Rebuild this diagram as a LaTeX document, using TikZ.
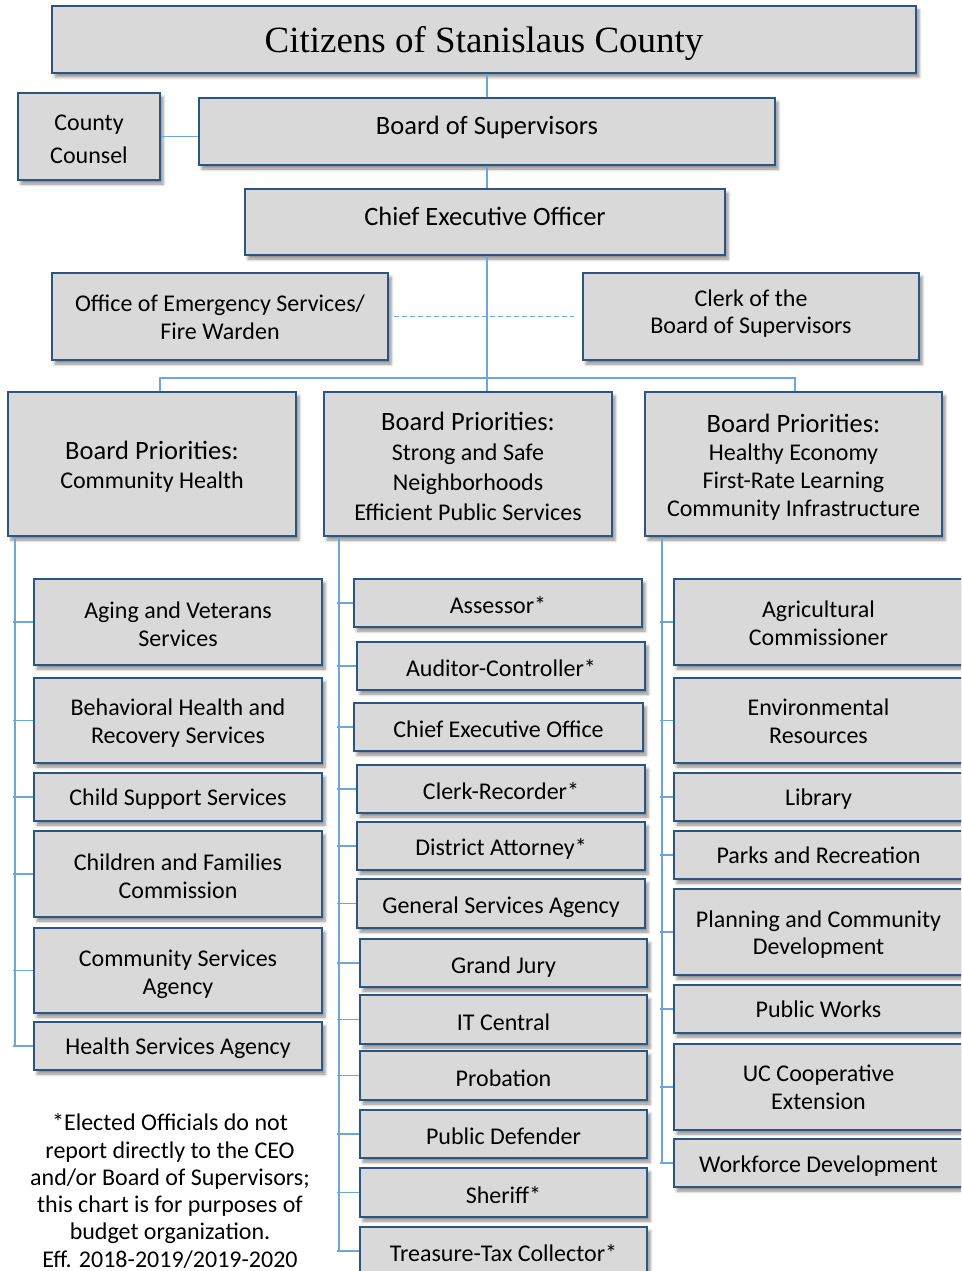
\documentclass[tikz,border=0pt]{standalone}
\usepackage{fontspec}
\setmainfont{Carlito}
\newfontfamily\titlefont{Liberation Serif}
\usetikzlibrary{shadows.blur}
\definecolor{boxfill}{RGB}{217,217,217}
\definecolor{boxline}{RGB}{45,85,130}
\definecolor{conn}{RGB}{110,165,220}
\tikzset{
  box/.style={draw=boxline, line width=1.8pt, fill=boxfill, inner sep=0pt,
    blur shadow={shadow xshift=3pt, shadow yshift=-4pt, shadow blur radius=3pt, shadow opacity=45}},
  txt/.style={align=center, inner sep=0pt, yshift=-2.5pt, font=\fontsize{24}{27.7}\selectfont},
  link/.style={draw=conn, line width=1.3pt},
  big/.style={font=\fontsize{26.5}{30}\selectfont},
}
% \bx[text options]{x1}{y1}{x2}{y2}{name}{text}
\newcommand\bx[7][]{%
  \node[box, minimum width={(#4-#2)*1pt}, minimum height={(#5-#3)*1pt}] (#6) at ({(#2+#4)/2},{(#3+#5)/2}) {};
  \node[txt,#1] (#6-t) at (#6.center) {#7};}
\newcommand\bph{\fontsize{26.5}{30}\selectfont Board Priorities:}
\begin{document}
\begin{tikzpicture}[x=1pt,y=-1pt]
\useasboundingbox (0,0) rectangle (961,1271);
\clip (0,0) rectangle (961,1271);
\coordinate (cL) at (15,0);
\coordinate (cM) at (339,0);
\coordinate (cR) at (662,0);
\coordinate (busL) at (160,378);
\coordinate (busR) at (795,378);
\coordinate (spine) at (487,0);
% top boxes
\bx[yshift=-1.5pt, font=\titlefont\fontsize{37}{40}\selectfont]{52}{6}{916}{73}{cit}{Citizens of Stanislaus County}
\bx[font=\fontsize{24}{33}\selectfont]{18}{93}{160}{180}{cc}{County\\Counsel}
\bx[big, yshift=6.5pt]{199}{98}{775}{165}{bos}{Board of Supervisors}
\bx[big, yshift=8.5pt]{245}{189}{725}{255}{ceo}{Chief Executive Officer}
\bx[yshift=1.5pt]{52}{273}{388}{360}{oes}{Office of Emergency Services/\\Fire Warden}
\bx[yshift=5.5pt]{583}{273}{919}{360}{cbs}{Clerk of the\\Board of Supervisors}
\bx[font=\fontsize{24}{29}\selectfont]{8}{392}{296}{536}{bpa}{{\bph}\\Community Health}
\bx[font=\fontsize{24}{30}\selectfont]{324}{392}{612}{536}{bpb}{{\bph}\\Strong and Safe\\Neighborhoods\\Efficient Public Services}
\bx[yshift=-1pt, font=\fontsize{24}{28}\selectfont]{645}{392}{942}{536}{bpc}{{\bph}\\Healthy Economy\\First-Rate Learning\\Community Infrastructure}
% left column
\bx{34}{579}{322}{665}{l1}{Aging and Veterans\\Services}
\bx{34}{678}{322}{763}{l2}{Behavioral Health and\\Recovery Services}
\bx{34}{773}{322}{821}{l3}{Child Support Services}
\bx{34}{831}{322}{917}{l4}{Children and Families\\Commission}
\bx[yshift=-1.5pt]{34}{928}{322}{1013}{l5}{Community Services\\Agency}
\bx{34}{1022}{322}{1070}{l6}{Health Services Agency}
% middle column
\bx{354}{579}{642}{627}{m1}{Assessor*}
\bx{357}{642}{645}{690}{m2}{Auditor-Controller*}
\bx{354}{703}{643}{751}{m3}{Chief Executive Office}
\bx{357}{765}{645}{813}{m4}{Clerk-Recorder*}
\bx[yshift=-0.5pt]{357}{822}{645}{870}{m5}{District Attorney*}
\bx[yshift=-1.5pt]{357}{879}{645}{928}{m6}{General Services Agency}
\bx[yshift=-1.5pt]{360}{939}{647}{987}{m7}{Grand Jury}
\bx{360}{995}{647}{1044}{m8}{IT Central}
\bx{360}{1051}{647}{1100}{m9}{Probation}
\bx{360}{1110}{647}{1158}{m10}{Public Defender}
\bx{360}{1168}{647}{1217}{m11}{Sheriff*}
\bx{360}{1227}{647}{1275}{m12}{Treasure-Tax Collector*}
% right column
\bx[yshift=1.5pt]{674}{579}{963}{665}{r1}{Agricultural\\Commissioner}
\bx[yshift=1.5pt]{674}{678}{963}{763}{r2}{Environmental\\Resources}
\bx{674}{773}{963}{821}{r3}{Library}
\bx[yshift=2.5pt]{674}{831}{963}{879}{r4}{Parks and Recreation}
\bx{674}{889}{963}{975}{r5}{Planning and Community\\Development}
\bx[yshift=2.5pt]{674}{985}{963}{1033}{r6}{Public Works}
\bx[yshift=2pt]{674}{1044}{963}{1130}{r7}{UC Cooperative\\Extension}
\bx[yshift=-0.5pt]{674}{1139}{963}{1187}{r8}{Workforce Development}
% note
\node[align=center, font=\fontsize{24}{27.3}\selectfont] (note) at (170,1191)
  {*Elected Officials do not\\report directly to the CEO\\and/or Board of Supervisors;\\this chart is for purposes of\\budget organization.\\Eff. 2018-2019/2019-2020};
% connectors
\draw[link] (spine |- cit.south) -- (spine |- bos.north);
\draw[link] (spine |- bos.south) -- (spine |- ceo.north);
\draw[link] (spine |- ceo.south) -- (spine |- bpb.north);
\draw[link] (cc.east) -- (bos.west |- cc.east);
\draw[link, dashed, dash pattern=on 5pt off 3pt] ([xshift=5pt]oes.east) -- ([xshift=-8pt]cbs.west);
\draw[link] (busL |- bpa.north) -- (busL) -- (busR) -- (busR |- bpc.north);
\draw[link] (cL |- bpa.south) -- (cL |- l6.west);
\foreach \n in {l1,l2,l3,l4,l5,l6} \draw[link] ([xshift=-2pt]cL |- \n.west) -- (\n.west);
\draw[link] (cM |- bpb.south) -- (cM |- m12.west);
\foreach \n in {m1,m2,m3,m4,m5,m6,m7,m8,m9,m10,m11,m12} \draw[link] ([xshift=-2pt]cM |- \n.west) -- (\n.west);
\draw[link] (cR |- bpc.south) -- (cR |- r8.west);
\foreach \n in {r1,r2,r3,r4,r5,r6,r7,r8} \draw[link] ([xshift=-2pt]cR |- \n.west) -- (\n.west);
\end{tikzpicture}
\end{document}
